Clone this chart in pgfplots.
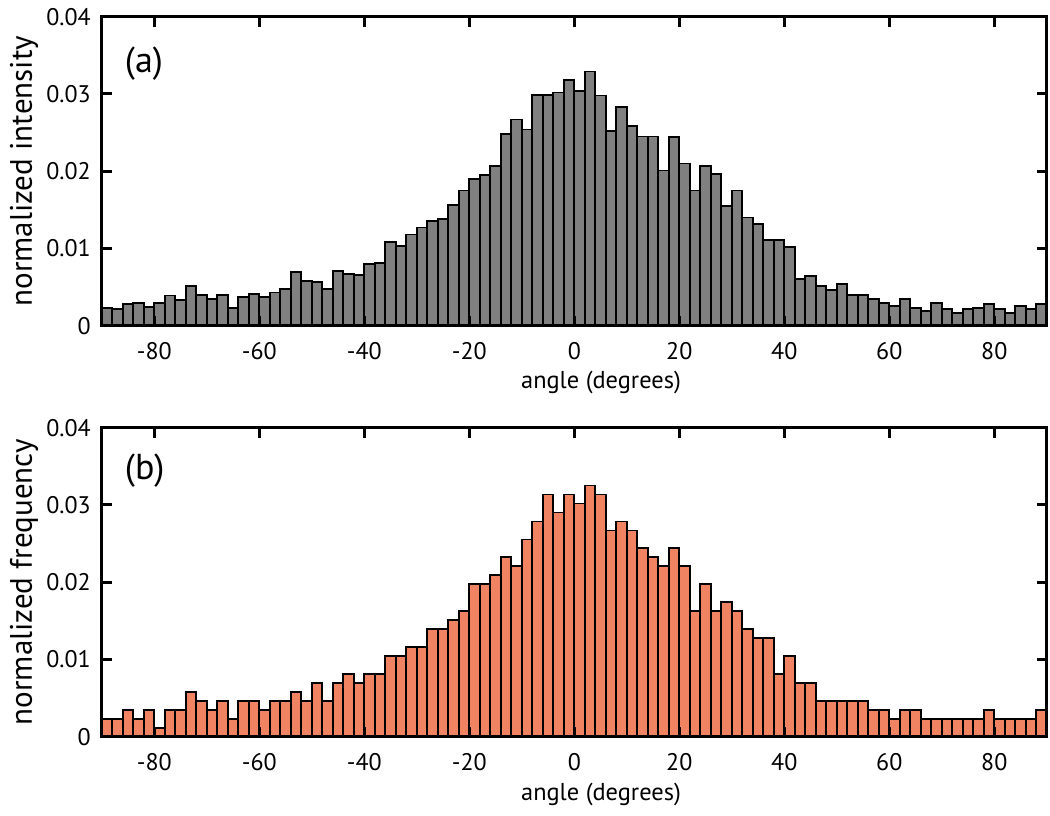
\documentclass[border=0pt]{standalone}
\usepackage{fontspec}
\setmainfont{PT Sans}
\usepackage{pgfplots}
\usepackage{pgfplotstable}
\pgfplotsset{compat=1.18}
\definecolor{grayfill}{RGB}{128,128,128}
\definecolor{orangefill}{RGB}{240,132,98}

\pgfplotstableread{
x y
-90 0.0023
-88 0.0022
-86 0.0028
-84 0.0029
-82 0.0024
-80 0.0029
-78 0.0039
-76 0.0033
-74 0.0051
-72 0.0040
-70 0.0035
-68 0.0040
-66 0.0023
-64 0.0037
-62 0.0041
-60 0.0037
-58 0.0043
-56 0.0048
-54 0.0069
-52 0.0058
-50 0.0057
-48 0.0047
-46 0.0071
-44 0.0067
-42 0.0066
-40 0.0080
-38 0.0081
-36 0.0108
-34 0.0103
-32 0.0118
-30 0.0127
-28 0.0136
-26 0.0138
-24 0.0156
-22 0.0175
-20 0.0190
-18 0.0195
-16 0.0207
-14 0.0248
-12 0.0267
-10 0.0254
-8 0.0299
-6 0.0299
-4 0.0302
-2 0.0318
0 0.0304
2 0.0329
4 0.0298
6 0.0252
8 0.0283
10 0.0259
12 0.0245
14 0.0245
16 0.0201
18 0.0244
20 0.0210
22 0.0175
24 0.0207
26 0.0196
28 0.0155
30 0.0175
32 0.0140
34 0.0132
36 0.0111
38 0.0111
40 0.0102
42 0.0060
44 0.0064
46 0.0051
48 0.0046
50 0.0054
52 0.0040
54 0.0040
56 0.0035
58 0.0029
60 0.0025
62 0.0035
64 0.0023
66 0.0019
68 0.0029
70 0.0022
72 0.0016
74 0.0022
76 0.0023
78 0.0028
80 0.0022
82 0.0016
84 0.0025
86 0.0022
88 0.0028
90 0.0028
}\tableA

\pgfplotstableread{
x y
-90 0.00232
-88 0.00232
-86 0.00348
-84 0.00232
-82 0.00348
-80 0.00116
-78 0.00348
-76 0.00348
-74 0.00581
-72 0.00464
-70 0.00348
-68 0.00464
-66 0.00232
-64 0.00464
-62 0.00464
-60 0.00348
-58 0.00464
-56 0.00464
-54 0.00581
-52 0.00464
-50 0.00697
-48 0.00464
-46 0.00697
-44 0.00813
-42 0.00697
-40 0.00813
-38 0.00813
-36 0.01045
-34 0.01045
-32 0.01161
-30 0.01161
-28 0.01393
-26 0.01393
-24 0.01509
-22 0.01625
-20 0.01974
-18 0.01974
-16 0.02090
-14 0.02322
-12 0.02206
-10 0.02554
-8 0.02786
-6 0.03135
-4 0.02903
-2 0.03135
0 0.03019
2 0.03251
4 0.03135
6 0.02670
8 0.02786
10 0.02670
12 0.02438
14 0.02322
16 0.02206
18 0.02438
20 0.02206
22 0.01625
24 0.01974
26 0.01625
28 0.01742
30 0.01625
32 0.01393
34 0.01277
36 0.01277
38 0.00813
40 0.01045
42 0.00697
44 0.00697
46 0.00464
48 0.00464
50 0.00464
52 0.00464
54 0.00464
56 0.00348
58 0.00348
60 0.00232
62 0.00348
64 0.00348
66 0.00232
68 0.00232
70 0.00232
72 0.00232
74 0.00232
76 0.00232
78 0.00348
80 0.00232
82 0.00232
84 0.00232
86 0.00232
88 0.00348
90 0.00348
}\tableB

\pgfplotsset{
  myax/.style={
    scale only axis, width=472.5pt, height=154.5pt,
    anchor=south west,
    xmin=-90, xmax=90, ymin=0, ymax=0.04,
    enlargelimits=false,
    scaled y ticks=false, scaled x ticks=false,
    xtick={-80,-60,-40,-20,0,20,40,60,80},
    xticklabels={-80,-60,-40,-20,0,20,40,60,80},
    ytick={0,0.01,0.02,0.03,0.04},
    yticklabels={0,0.01,0.02,0.03,0.04},
    tick align=inside, xtick pos=both, ytick pos=both, ticklabel pos=left,
    major tick length=5pt,
    every tick/.style={black, line width=1.5pt},
    axis line style={line width=1.5pt},
    axis on top,
    ticklabel style={font=\fontsize{12}{13}\selectfont},
    xticklabel style={yshift=-5pt},
    yticklabel style={xshift=-2pt},
    xlabel style={at={(axis description cs:0.5283,0)}, anchor=base, yshift=-31.65pt, font=\fontsize{12.2}{13}\selectfont},
    ylabel style={at={(axis description cs:-0.0741,0.5)}, anchor=base, font=\fontsize{15.5}{16}\selectfont},
    xlabel={angle (degrees)},
  }
}

\begin{document}
\begin{tikzpicture}
\begin{axis}[myax, at={(50.9pt,244.65pt)}, ylabel={normalized intensity}]
  \addplot[ybar interval, fill=grayfill, draw=black, line width=0.9pt] table {\tableA};
  \node[anchor=west, font=\fontsize{18}{19}\selectfont] at (rel axis cs:0.017,0.849) {(a)};
\end{axis}
\begin{axis}[myax, at={(50.9pt,39.15pt)}, ylabel={normalized frequency}]
  \addplot[ybar interval, fill=orangefill, draw=black, line width=0.9pt] table {\tableB};
  \node[anchor=west, font=\fontsize{18}{19}\selectfont] at (rel axis cs:0.017,0.861) {(b)};
\end{axis}
\pgfresetboundingbox
\path (0,0) rectangle (525pt,407.5pt);
\end{tikzpicture}
\end{document}
